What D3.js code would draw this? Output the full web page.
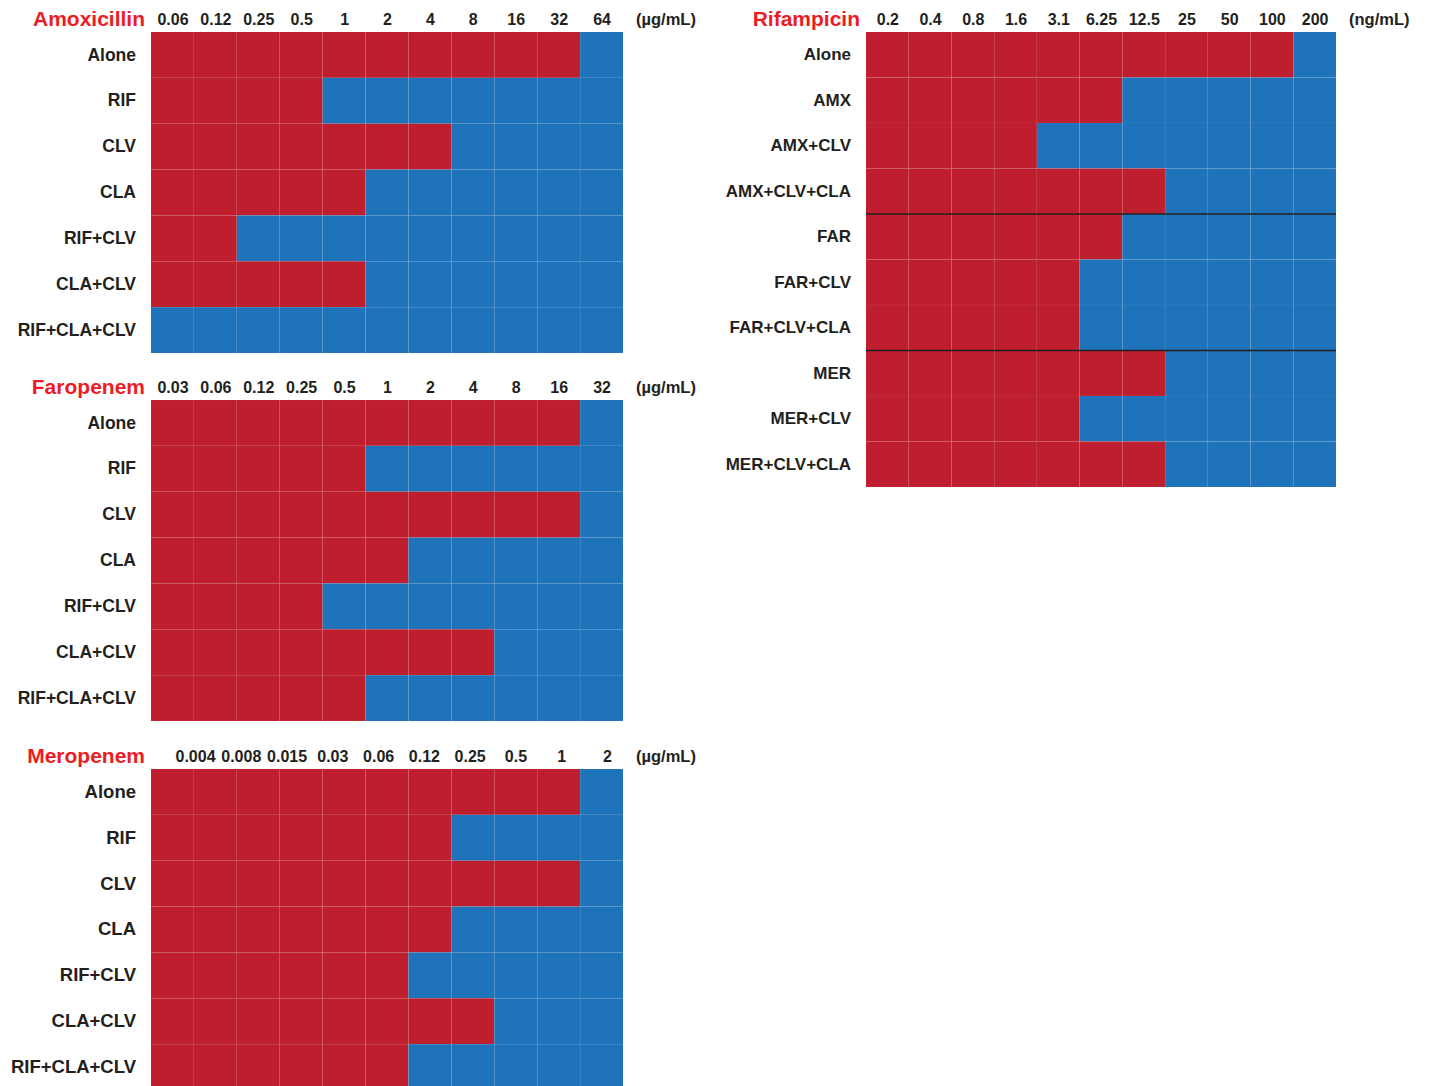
<!DOCTYPE html>
<html>
<head>
<meta charset="utf-8">
<script src="https://cdn.jsdelivr.net/npm/d3@7"></script>
<style>
  body { margin: 0; background: #fff; }
  svg { display: block; }
</style>
</head>
<body>
<div id="root"></div>
<script>
// concentrations (column labels)
const amxConc = ["0.06", "0.12", "0.25", "0.5", "1", "2", "4", "8", "16", "32", "64"];
const farConc = ["0.03", "0.06", "0.12", "0.25", "0.5", "1", "2", "4", "8", "16", "32"];
const merConc = ["0.004", "0.008", "0.015", "0.03", "0.06", "0.12", "0.25", "0.5", "1", "2"];
const rifConc = ["0.2", "0.4", "0.8", "1.6", "3.1", "6.25", "12.5", "25", "50", "100", "200"];

// treatments (rows)
const betaRows = ["Alone", "RIF", "CLV", "CLA", "RIF+CLV", "CLA+CLV", "RIF+CLA+CLV"];
const rifRows = ["Alone", "AMX", "AMX+CLV", "AMX+CLV+CLA", "FAR", "FAR+CLV", "FAR+CLV+CLA", "MER", "MER+CLV", "MER+CLV+CLA"];

// number of wells with growth (red), counted from the lowest concentration
const amxGrowth = [10, 4, 7, 5, 2, 5, 0];
const farGrowth = [10, 5, 10, 6, 4, 8, 5];
const merGrowth = [10, 7, 10, 7, 6, 8, 6];
const rifGrowth = [10, 6, 4, 7, 6, 5, 5, 7, 5, 7];

const width = 1431;
const height = 1086;
const red = "#be1e2d";
const blue = "#1f73ba";
const ink = "#231f20";
const titleRed = "#ed1c24";
const font = "'Liberation Sans', Arial, Helvetica, sans-serif";

const svg = d3
  .select("#root")
  .append("svg")
  .attr("width", width)
  .attr("height", height)
  .attr("viewBox", [0, 0, width, height])
  .style("font-family", font)
  .style("font-weight", "bold");

function drawPanel(p) {
  const cols = d3.range(p.nCols);
  const x = d3.scaleBand().domain(cols).range([p.x0, p.x1]);
  const y = d3.scaleBand().domain(p.rows).range([p.y0, p.y1]);

  const g = svg.append("g");

  const cells = p.rows.flatMap((r, i) =>
    cols.map((c) => ({ row: r, col: c, growth: c < p.growth[i] }))
  );

  g.selectAll("rect")
    .data(cells)
    .join("rect")
    .attr("x", (d) => x(d.col))
    .attr("y", (d) => y(d.row))
    .attr("width", x.bandwidth())
    .attr("height", y.bandwidth())
    .attr("fill", (d) => (d.growth ? red : blue))
    .attr("stroke", "#ffffff")
    .attr("stroke-opacity", 0.04)
    .attr("stroke-width", 1);

  // separators
  (p.separators || []).forEach((r) => {
    g.append("line")
      .attr("x1", p.x0)
      .attr("x2", p.x1)
      .attr("y1", y(r))
      .attr("y2", y(r))
      .attr("stroke", ink)
      .attr("stroke-width", 1.5);
  });

  // concentration ticks
  const tickRange = p.tickRange || [
    x(0) + x.bandwidth() / 2,
    x(p.nCols - 1) + x.bandwidth() / 2,
  ];
  const tx = d3.scalePoint().domain(p.conc).range(tickRange);
  const topAxis = g
    .append("g")
    .attr("transform", `translate(0, ${p.y0})`)
    .call(d3.axisTop(tx).tickSize(0).tickPadding(7));
  topAxis.select(".domain").remove();
  topAxis
    .selectAll("text")
    .attr("fill", ink)
    .attr("font-family", font)
    .attr("font-weight", "bold")
    .attr("font-size", p.tickSize || 16);

  // row labels
  const leftAxis = g
    .append("g")
    .attr("transform", `translate(${p.x0}, 0)`)
    .call(d3.axisLeft(y).tickSize(0).tickPadding(15));
  leftAxis.select(".domain").remove();
  leftAxis
    .selectAll("text")
    .attr("fill", ink)
    .attr("font-family", font)
    .attr("font-weight", "bold")
    .attr("font-size", p.rowSize || 17.5);

  // drug title
  g.append("text")
    .attr("x", p.x0 - 6)
    .attr("y", p.y0 - 6)
    .attr("text-anchor", "end")
    .attr("fill", titleRed)
    .attr("font-size", 21)
    .text(p.title);

  // unit
  g.append("text")
    .attr("x", p.x1 + 13)
    .attr("y", p.y0 - 7)
    .attr("fill", ink)
    .attr("font-size", 16.5)
    .text(p.unit);
}

drawPanel({
  title: "Amoxicillin",
  unit: "(µg/mL)",
  conc: amxConc,
  rows: betaRows,
  growth: amxGrowth,
  nCols: 11,
  x0: 151,
  x1: 623,
  y0: 32,
  y1: 353,
});

drawPanel({
  title: "Faropenem",
  unit: "(µg/mL)",
  conc: farConc,
  rows: betaRows,
  growth: farGrowth,
  nCols: 11,
  x0: 151,
  x1: 623,
  y0: 400,
  y1: 721,
});

drawPanel({
  title: "Meropenem",
  unit: "(µg/mL)",
  conc: merConc,
  rows: betaRows,
  growth: merGrowth,
  nCols: 11,
  x0: 151,
  x1: 623,
  y0: 769,
  y1: 1090,
  tickRange: [195, 607],
  rowSize: 18.5,
});

drawPanel({
  title: "Rifampicin",
  unit: "(ng/mL)",
  conc: rifConc,
  rows: rifRows,
  growth: rifGrowth,
  nCols: 11,
  x0: 866,
  x1: 1336,
  y0: 32,
  y1: 487,
  separators: ["FAR", "MER"],
  rowSize: 17,
});
</script>
</body>
</html>
